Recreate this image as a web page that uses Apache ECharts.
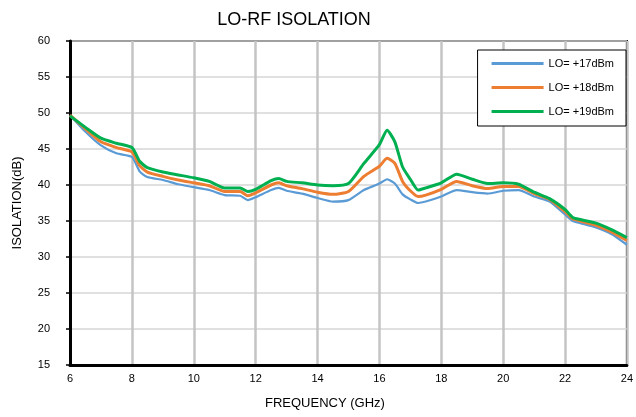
<!DOCTYPE html>
<html><head><meta charset="utf-8">
<script src="https://cdn.jsdelivr.net/npm/echarts@6/dist/echarts.min.js"></script>
<style>html,body{margin:0;padding:0;background:#fff}#c{width:636px;height:417px}</style>
</head><body><div id="c"></div>
<script>
const freq = [6,6.5,7,7.5,8,8.25,8.5,9,9.5,10,10.5,11,11.5,11.75,12,12.5,12.75,13,13.5,14,14.5,15,15.5,16,16.25,16.5,16.75,17,17.25,17.5,18,18.5,19,19.5,20,20.5,21,21.5,22,22.25,22.5,23,23.5,24];
const lo17 = [49.7,47.4,45.5,44.4,43.9,41.9,41.1,40.7,40.1,39.7,39.3,38.6,38.5,37.9,38.3,39.3,39.6,39.2,38.8,38.2,37.7,37.9,39.3,40.2,40.8,40.2,38.7,38.0,37.5,37.7,38.4,39.3,39.0,38.8,39.2,39.3,38.4,37.7,35.9,35.0,34.7,34.1,33.2,31.7];
const lo18 = [49.7,47.8,46.0,45.2,44.6,42.7,41.8,41.2,40.7,40.3,39.9,39.1,39.1,38.5,38.9,40.0,40.3,39.9,39.5,39.0,38.7,39.1,41.2,42.6,43.7,43.0,40.5,39.2,38.4,38.6,39.4,40.5,39.9,39.5,39.8,39.8,38.8,38.0,36.3,35.3,35.0,34.4,33.5,32.3];
const lo19 = [49.6,48.0,46.5,45.8,45.2,43.3,42.4,41.8,41.4,41.0,40.5,39.6,39.6,39.1,39.4,40.6,40.9,40.5,40.3,40.0,39.9,40.2,43.0,45.6,47.6,46.0,42.5,40.8,39.3,39.6,40.3,41.5,40.8,40.2,40.3,40.1,39.0,38.1,36.6,35.5,35.2,34.7,33.8,32.7];
const seriesNames = ['LO= +17dBm','LO= +18dBm','LO= +19dBm'];
const xTicks = [6,8,10,12,14,16,18,20,22,24];
const yTicks = [15,20,25,30,35,40,45,50,55,60];

const font = 'Liberation Sans, Arial, sans-serif';
const chart = echarts.init(document.getElementById('c'));
const pair = arr => freq.map((f,i)=>[f,arr[i]]);
chart.setOption({
  animation:false,
  title:{text:'LO-RF ISOLATION', left:289, top:6, textAlign:'center',
    textStyle:{fontFamily:font,fontSize:18,fontWeight:'normal',color:'#000'}},
  grid:{left:70,right:4,top:41,bottom:52,show:true,borderColor:'#000',borderWidth:2,backgroundColor:'transparent'},
  legend:{right:10,top:50,orient:'vertical',itemGap:13,itemWidth:52,itemHeight:3,
    backgroundColor:'#fff',borderColor:'#000',borderWidth:1,borderRadius:0,
    padding:[8,12,9,14],icon:'rect',
    textStyle:{fontFamily:font,fontSize:11,color:'#000'},
    data:seriesNames},
  xAxis:{type:'value',min:xTicks[0],max:xTicks[xTicks.length-1],interval:2,
    axisLine:{lineStyle:{color:'#000',width:3}},
    axisTick:{show:false},
    axisLabel:{fontFamily:font,fontSize:11,color:'#000',margin:8},
    splitLine:{show:true,lineStyle:{color:'#c4c4c4',width:2.5}}},
  yAxis:{type:'value',min:yTicks[0],max:yTicks[yTicks.length-1],interval:5,
    name:'ISOLATION(dB)',nameLocation:'middle',nameGap:46,
    nameTextStyle:{fontFamily:font,fontSize:13,color:'#000'},
    axisLine:{show:true,lineStyle:{color:'#000',width:3}},
    axisTick:{show:true,length:4,lineStyle:{color:'#000',width:1.5}},
    axisLabel:{fontFamily:font,fontSize:11,color:'#000',margin:20},
    splitLine:{show:true,lineStyle:{color:'#d6d6d6',width:1.5}}},
  graphic:[
    {type:'text',left:265,top:397,style:{text:'FREQUENCY (GHz)',font:'13px '+font,fill:'#000'}}
  ],
  series:[
    {name:seriesNames[0],type:'line',data:pair(lo17),showSymbol:false,smooth:0.2,color:'#5B9BD5',lineStyle:{width:2.2}},
    {name:seriesNames[1],type:'line',data:pair(lo18),showSymbol:false,smooth:0.2,color:'#ED7D31',lineStyle:{width:3}},
    {name:seriesNames[2],type:'line',data:pair(lo19),showSymbol:false,smooth:0.2,color:'#00B050',lineStyle:{width:3}}
  ]
});
</script></body></html>
